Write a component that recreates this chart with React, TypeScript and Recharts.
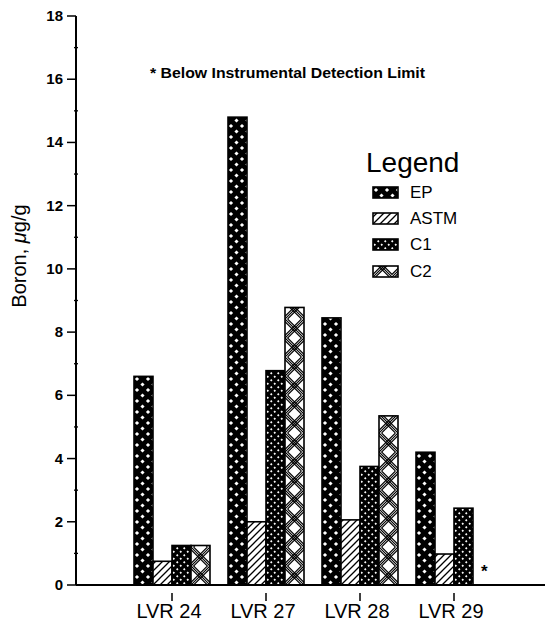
import React from 'react';
import { BarChart, Bar, XAxis, YAxis } from 'recharts';

const categories = ['LVR 24', 'LVR 27', 'LVR 28', 'LVR 29'];
const epValues = [6.6, 14.8, 8.45, 4.2];
const astmValues = [0.75, 2.0, 2.06, 0.98];
const c1Values = [1.25, 6.78, 3.75, 2.43];
const c2Values = [1.25, 8.78, 5.35, 0];
const yTicks = [0, 1, 2, 3, 4, 5, 6, 7, 8, 9, 10, 11, 12, 13, 14, 15, 16, 17, 18];
const seriesNames = ['EP', 'ASTM', 'C1', 'C2'];

const data = categories.map((c, i) => ({
  name: c,
  EP: epValues[i],
  ASTM: astmValues[i],
  C1: c1Values[i],
  C2: c2Values[i],
}));

const FONT = '"Liberation Sans", Arial, sans-serif';

function diamond(cx: number, cy: number, r: number) {
  return `M${cx - r},${cy} L${cx},${cy - r} L${cx + r},${cy} L${cx},${cy + r} Z`;
}

function patternContent(kind: string) {
  if (kind === 'EP') {
    return (
      <>
        <rect x={0} y={0} width={11} height={11} fill="#000" />
        <path d={diamond(3, 3, 2.1) + diamond(8.5, 8.5, 2.1) + diamond(8.5, -2.5, 2.1) + diamond(-2.5, 8.5, 2.1)} fill="#fff" />
      </>
    );
  }
  if (kind === 'C1') {
    return (
      <>
        <rect x={0} y={0} width={7} height={7} fill="#000" />
        <path d={diamond(1.75, 1.75, 1.25) + diamond(5.25, 5.25, 1.25)} fill="#fff" />
      </>
    );
  }
  if (kind === 'ASTM') {
    return (
      <>
        <rect x={0} y={0} width={7} height={7} fill="#fff" />
        <path d="M0,7 L7,0 M-2,2 L2,-2 M5,9 L9,5" stroke="#000" strokeWidth={1.3} />
      </>
    );
  }
  const lines: string[] = [];
  for (const o of [-2.6, 0, 2.6]) {
    lines.push(`M${o},0 L${19 + o},19 L${o},38`);
    lines.push(`M${19 + o},0 L${o},19 L${19 + o},38`);
  }
  return (
    <>
      <rect x={0} y={0} width={19} height={38} fill="#fff" />
      <path d={lines.join(' ')} stroke="#000" strokeWidth={1.1} fill="none" />
    </>
  );
}

const patternSize: Record<string, [number, number]> = {
  EP: [11, 11],
  C1: [7, 7],
  ASTM: [7, 7],
  C2: [19, 38],
};

function makeShape(kind: string) {
  return (props: any) => {
    const { x, y, width, height, index } = props;
    if (!height || height <= 0) return <g />;
    const id = `pat-${kind}-${index}`;
    const [pw, ph] = patternSize[kind];
    return (
      <g>
        <defs>
          <pattern id={id} patternUnits="userSpaceOnUse" x={x} y={y + height} width={pw} height={ph}>
            {patternContent(kind)}
          </pattern>
        </defs>
        <rect x={x} y={y} width={width} height={height} fill={`url(#${id})`} stroke="#000" strokeWidth={1.6} />
      </g>
    );
  };
}

const YTick = (props: any) => {
  const { x, y, payload } = props;
  const v = payload.value;
  const major = v % 2 === 0;
  return (
    <g>
      {major ? (
        <line x1={x - 9} y1={y} x2={x} y2={y} stroke="#000" strokeWidth={1.5} />
      ) : (
        <line x1={x - 2} y1={y} x2={x + 2} y2={y} stroke="#000" strokeWidth={1.3} />
      )}
      {major && (
        <text x={x - 13} y={y + 5} textAnchor="end" fontSize={15} fontWeight="bold" fontFamily={FONT} fill="#000">
          {v}
        </text>
      )}
    </g>
  );
};

const XTick = (props: any) => {
  const { x, y, payload } = props;
  return (
    <g>
      <line x1={x} y1={y} x2={x} y2={y + 8} stroke="#000" strokeWidth={1.5} />
      <text x={x - 3} y={y + 25} textAnchor="middle" fontSize={20} fontFamily={FONT} fill="#000">
        {payload.value}
      </text>
    </g>
  );
};

const legendRows = [198, 224, 250, 277];

export default function App() {
  return (
    <div style={{ position: 'absolute', left: 0, top: 0, width: 547, height: 621, background: '#fff' }}>
      <BarChart
        width={547}
        height={621}
        data={data}
        margin={{ top: 16, right: 2, bottom: 0, left: 0 }}
        barCategoryGap={9}
        barGap={0}
      >
        <XAxis
          dataKey="name"
          height={36}
          padding={{ left: 49, right: 44 }}
          axisLine={{ stroke: '#000', strokeWidth: 2 }}
          tickLine={false}
          tick={<XTick />}
          interval={0}
        />
        <YAxis
          width={76}
          domain={[0, 18]}
          ticks={yTicks}
          interval={0}
          axisLine={{ stroke: '#000', strokeWidth: 2 }}
          tickLine={false}
          tickSize={0}
          tickMargin={0}
          tick={<YTick />}
        />
        <Bar dataKey="EP" isAnimationActive={false} shape={makeShape('EP')} />
        <Bar dataKey="ASTM" isAnimationActive={false} shape={makeShape('ASTM')} />
        <Bar dataKey="C1" isAnimationActive={false} shape={makeShape('C1')} />
        <Bar dataKey="C2" isAnimationActive={false} shape={makeShape('C2')} />
        <text x={26} y={256} transform="rotate(-90 26 256)" textAnchor="middle" fontSize={20} fontFamily={FONT} fill="#000">
          Boron, <tspan fontStyle="italic">μ</tspan>g/g
        </text>
        <text x={150} y={78} fontSize={14} fontWeight="bold" fontFamily={FONT} fill="#000" textLength={275} lengthAdjust="spacingAndGlyphs">
          * Below Instrumental Detection Limit
        </text>
        <text x={481} y={577} fontSize={17} fontWeight="bold" fontFamily={FONT} fill="#000">*</text>
        <g>
          <text x={366} y={172} fontSize={28} fontFamily={FONT} fill="#000">Legend</text>
          {seriesNames.map((s, i) => {
            const base = legendRows[i];
            const [pw, ph] = patternSize[s];
            const id = `leg-${s}`;
            return (
              <g key={s}>
                <defs>
                  <pattern id={id} patternUnits="userSpaceOnUse" x={373} y={base} width={pw} height={ph}>
                    {patternContent(s)}
                  </pattern>
                </defs>
                <rect x={373} y={base - 11} width={25} height={11} fill={`url(#${id})`} stroke="#000" strokeWidth={1.6} />
                <text x={410} y={base} fontSize={17} fontFamily={FONT} fill="#000">{s}</text>
              </g>
            );
          })}
        </g>
      </BarChart>
    </div>
  );
}
